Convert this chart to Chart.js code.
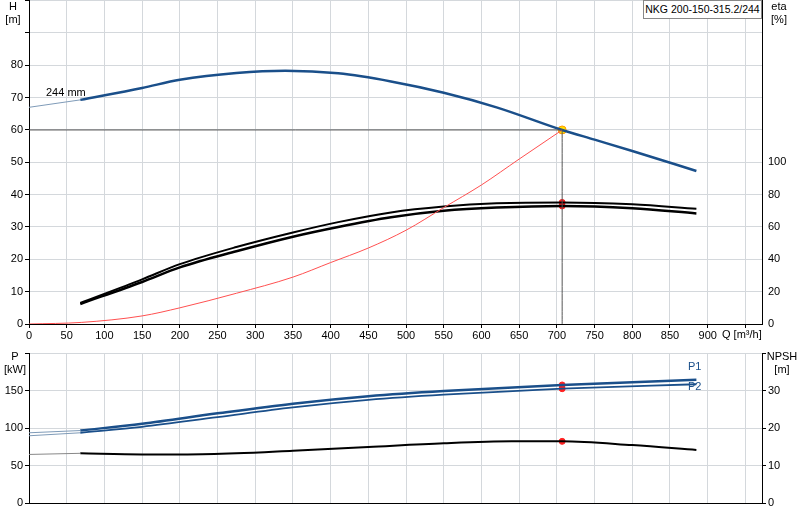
<!DOCTYPE html>
<html><head><meta charset="utf-8">
<script src="https://cdn.jsdelivr.net/npm/chart.js@4"></script>
<style>
body{margin:0;background:#fff;width:800px;height:520px;position:relative;overflow:hidden;font-family:"Liberation Sans",Arial,sans-serif;font-size:11px;color:#000}
canvas{position:absolute;left:0}
.t{position:absolute;text-align:center;line-height:13px;font-size:11px;white-space:nowrap}
</style></head><body>
<canvas id="c1" style="top:-8px"></canvas>
<canvas id="c2" style="top:345px"></canvas>
<div class="t" style="left:2px;top:0px;width:22px">H<br>[m]</div>
<div class="t" style="left:764px;top:0px;width:30px">eta<br>[%]</div>
<div class="t" style="left:722px;top:328px;width:60px;text-align:left">Q [m³/h]</div>
<div class="t" style="left:2px;top:350px;width:26px">P<br>[kW]</div>
<div class="t" style="left:764px;top:350px;width:36px">NPSH<br>[m]</div>
<div class="t" style="left:643px;top:0px;width:117px;height:17px;border:1px solid #888;line-height:17px;background:#fff;font-size:10.5px">NKG 200-150-315.2/244</div>
<div class="t" style="left:46px;top:86px;text-align:left">244 mm</div>
<div class="t" style="left:688px;top:360px;color:#1a4f8a">P1</div>
<div class="t" style="left:688px;top:380px;color:#1a4f8a">P2</div>
<script>
// Data
const qHthin = [0, 68];
const hThin = [67, 69.3];
const qH = [68, 150, 200, 275, 340, 410, 480, 550, 620, 707, 750, 800, 885];
const hVals = [69.3, 73, 75.5, 77.6, 78.3, 77.5, 75, 71.5, 67, 60, 57, 53.5, 47.3];
const qEta = [68, 150, 200, 275, 350, 410, 480, 550, 620, 707, 800, 885];
const eta1 = [13, 27.6, 37, 47.6, 56.6, 63, 69, 72.6, 74.6, 75.2, 74, 71.2];
const eta2 = [12.4, 26, 35, 45, 54, 60, 66, 70, 72, 73, 71.6, 68.4];
const qSys = [0, 70, 150, 200, 275, 350, 400, 450, 500, 550, 600, 650, 707];
const hSys = [0, 0.5, 2.5, 5, 9.5, 14.5, 19, 23.5, 29, 36, 43, 51, 60];
const qDuty = 707, hDuty = 60, etaDuty = [75.2, 73];
const qP = [0, 68, 150, 250, 350, 450, 550, 707, 885];
const p1 = [94, 97, 106, 120, 133, 143, 150, 158, 165];
const p2 = [90, 94, 102, 115, 128, 138, 145, 153, 159];
const qN = [0, 68, 150, 210, 275, 350, 450, 550, 640, 707, 800, 885];
const npsh = [13, 13.3, 13, 13, 13.3, 14, 15, 16, 16.5, 16.5, 15.5, 14.2];
const pDuty = [158, 153], npshDuty = 16.5;
const xTicksShown = [0,50,100,150,200,250,300,350,400,450,500,550,600,650,700,750,800,850,900];

const xy = (xs, ys) => xs.map((x, i) => ({x, y: ys[i]}));
const blue = '#1a4f8a', grid = '#d4d8dc';
const F = {family: '"Liberation Sans", Arial, sans-serif', size: 11};
function ln(data, color, w, axis) { return {type:'line', data, borderColor:color, borderWidth:w, pointRadius:0, cubicInterpolationMode:'monotone', yAxisID:axis||'y', fill:false}; }
function pt(data, bg, bc, r, axis) { return {type:'scatter', data, backgroundColor:bg, borderColor:bc, borderWidth:1, pointRadius:r, yAxisID:axis||'y'}; }
const xScale = (h, showLabels) => ({type:'linear', min:0, max:972, afterBuildTicks: s => { s.ticks = [0,50,100,150,200,250,300,350,400,450,500,550,600,650,700,750,800,850,900,950].map(v=>({value:v})); },
  ticks:{display:showLabels, font:F, color:'#000', maxRotation:0, autoSkip:false, padding:1, callback:v => xTicksShown.includes(v) ? v : ''},
  grid:{color:grid, tickColor:'#000', tickLength:4, drawTicks:showLabels}, border:{color:'#000'}, afterFit: s => { s.height = h; }});
Chart.defaults.animation = false;
Chart.defaults.responsive = false;

const c1 = document.getElementById('c1'); c1.width = 800; c1.height = 353;
new Chart(c1, {data:{datasets:[
  ln(xy([0, qDuty], [hDuty, hDuty]), '#555', 1),
  ln(xy([qDuty, qDuty], [hDuty, 0]), '#555', 1),
  ln(xy(qSys, hSys), '#ff5050', 1),
  ln(xy(qHthin, hThin), '#7f9bb8', 1),
  ln(xy(qH, hVals), blue, 2.5),
  ln(xy(qEta, eta1), '#000', 2, 'eta'),
  ln(xy(qEta, eta2), '#000', 2.5, 'eta'),
  pt(xy([qDuty, qDuty], etaDuty), '#ff2020', '#ff2020', 3, 'eta'),
  pt([{x:qDuty, y:hDuty}], '#ffe000', '#ff9900', 4)
]}, options:{layout:{padding:{top:0,left:0,right:0,bottom:0}}, plugins:{legend:{display:false}, tooltip:{enabled:false}},
  scales:{
    x: xScale(21, true),
    y:{position:'left', min:0, max:100, afterBuildTicks: s => { s.ticks = [0,10,20,30,40,50,60,70,80,90,100].map(v=>({value:v})); },
      ticks:{font:F, color:'#000', padding:2, callback:v => v <= 80 ? v : ''}, grid:{color:grid, tickColor:'#000', tickLength:4}, border:{color:'#000'}, afterFit: s => { s.width = 29; }},
    eta:{position:'right', min:0, max:200, afterBuildTicks: s => { s.ticks = [0,20,40,60,80,100].map(v=>({value:v})); },
      ticks:{font:F, color:'#000', padding:2}, grid:{display:false, drawOnChartArea:false, tickColor:'#000', tickLength:4}, border:{color:'#000'}, afterFit: s => { s.width = 38; }}
  }}});

const c2 = document.getElementById('c2'); c2.width = 800; c2.height = 175;
new Chart(c2, {data:{datasets:[
  ln(xy(qP.slice(0,2), p1.slice(0,2)), '#7f9bb8', 1),
  ln(xy(qP.slice(1), p1.slice(1)), blue, 2.5),
  ln(xy(qP.slice(0,2), p2.slice(0,2)), '#7f9bb8', 1),
  ln(xy(qP.slice(1), p2.slice(1)), blue, 1.8),
  ln(xy(qN.slice(0,2), npsh.slice(0,2)), '#888', 1, 'n'),
  ln(xy(qN.slice(1), npsh.slice(1)), '#000', 2, 'n'),
  pt(xy([qDuty, qDuty], pDuty), '#ff2020', '#ff2020', 3),
  pt([{x:qDuty, y:npshDuty}], '#ff2020', '#ff2020', 3, 'n')
]}, options:{layout:{padding:{top:2,left:0,right:0,bottom:0}}, plugins:{legend:{display:false}, tooltip:{enabled:false}},
  scales:{
    x: xScale(17, false),
    y:{position:'left', min:0, max:200, afterBuildTicks: s => { s.ticks = [0,50,100,150,200].map(v=>({value:v})); },
      ticks:{font:F, color:'#000', padding:2, callback:v => v < 200 ? v : ''}, grid:{color:grid, tickColor:'#000', tickLength:4}, border:{color:'#000'}, afterFit: s => { s.width = 29; }},
    n:{position:'right', min:0, max:40, afterBuildTicks: s => { s.ticks = [0,10,20,30,40].map(v=>({value:v})); },
      ticks:{font:F, color:'#000', padding:2, callback:v => v < 40 ? v : ''}, grid:{drawOnChartArea:false, tickColor:'#000', tickLength:4}, border:{color:'#000'}, afterFit: s => { s.width = 38; }}
  }}});
</script></body></html>
